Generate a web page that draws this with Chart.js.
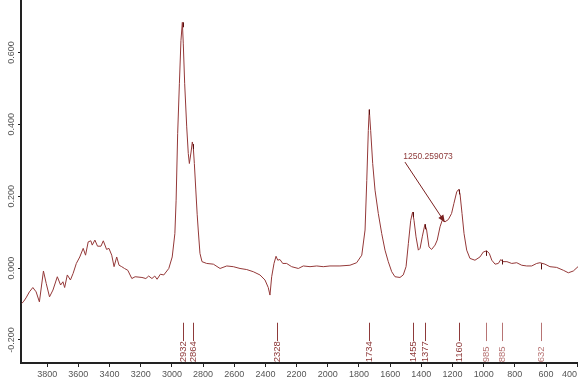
<!DOCTYPE html>
<html><head><meta charset="utf-8">
<script src="https://cdn.jsdelivr.net/npm/chart.js@4/dist/chart.umd.min.js"></script>
<style>html,body{margin:0;padding:0;background:#fff}#wrap{width:578px;height:386px}</style>
</head><body><div id="wrap"><canvas id="c" width="578" height="386"></canvas></div>
<script>
const wavenumbers = [3962,3950,3936,3914,3892,3871,3850,3824,3806,3785,3763,3735,3714,3699,3688,3671,3651,3634,3613,3591,3569,3554,3537,3520,3511,3494,3477,3455,3440,3419,3404,3386,3371,3354,3339,3322,3304,3283,3257,3236,3192,3167,3149,3128,3110,3095,3074,3052,3020,2998,2981,2973,2963,2952,2942,2933,2927,2918,2905,2895,2888,2877,2869,2863,2856,2847,2838,2831,2820,2807,2777,2734,2691,2648,2606,2563,2520,2478,2435,2403,2382,2371,2360,2345,2332,2321,2307,2289,2264,2232,2189,2157,2114,2071,2029,1986,1922,1858,1815,1782,1761,1750,1740,1734,1725,1712,1697,1676,1654,1633,1612,1590,1569,1537,1516,1498,1483,1468,1456,1447,1434,1419,1408,1394,1377,1366,1351,1334,1312,1298,1280,1266,1248,1227,1206,1191,1173,1161,1152,1139,1126,1109,1088,1056,1024,1002,981,964,948,927,906,890,877,851,820,788,756,724,692,660,639,607,575,532,489,457,425,395];
const absorbance = [-0.098,-0.092,-0.083,-0.066,-0.054,-0.066,-0.094,-0.008,-0.043,-0.080,-0.061,-0.024,-0.047,-0.038,-0.054,-0.019,-0.033,-0.015,0.013,0.031,0.055,0.036,0.073,0.076,0.064,0.078,0.061,0.061,0.076,0.052,0.055,0.036,0.004,0.031,0.008,0.004,-0.001,-0.006,-0.029,-0.024,-0.026,-0.029,-0.022,-0.029,-0.022,-0.031,-0.017,-0.019,-0.001,0.031,0.096,0.189,0.374,0.513,0.633,0.684,0.624,0.513,0.393,0.319,0.291,0.323,0.351,0.337,0.291,0.220,0.150,0.106,0.041,0.018,0.013,0.011,-0.001,0.006,0.004,-0.001,-0.004,-0.010,-0.019,-0.033,-0.054,-0.075,-0.024,0.013,0.033,0.022,0.024,0.013,0.013,0.004,-0.001,0.006,0.004,0.006,0.004,0.006,0.006,0.008,0.015,0.036,0.106,0.244,0.383,0.441,0.383,0.291,0.217,0.152,0.096,0.050,0.018,-0.010,-0.024,-0.026,-0.019,0.004,0.069,0.133,0.156,0.133,0.087,0.050,0.055,0.087,0.122,0.106,0.059,0.052,0.064,0.078,0.115,0.133,0.129,0.135,0.152,0.180,0.212,0.219,0.207,0.152,0.096,0.050,0.027,0.022,0.031,0.045,0.048,0.041,0.022,0.011,0.013,0.024,0.018,0.018,0.013,0.015,0.008,0.006,0.006,0.013,0.015,0.011,0.004,0.002,-0.006,-0.013,-0.008,0.004];
const xTickValues = [3800,3600,3400,3200,3000,2800,2600,2400,2200,2000,1800,1600,1400,1200,1000,800,600,400];
const yTickValues = [-0.2,0,0.2,0.4,0.6];
const peakPositions = [2932,2864,2328,1734,1455,1377,1160,985,885,632];
const peakLabels = ['2932','2864','2328','1734','1455','1377','1160','985','885','632'];
const peakMarkValues = [0.684,0.345,null,0.441,0.156,0.122,0.219,0.048,0.024,0.013];
const annotationText = '1250.259073';
const annotationFrom = [1505, 0.295];
const annotationTo = [1250, 0.128];
const annotationTextAt = [1357, 0.311];

const points = wavenumbers.map((w,i)=>({x:w,y:absorbance[i]}));
const FONT = 'Arial, "Liberation Sans", sans-serif';

const overlay = {
  id:'overlay',
  beforeDraw(chart){
    const xs = chart.scales.x;
    const items = xs.getLabelItems(chart.chartArea);
    const ctx = chart.ctx;
    ctx.save(); ctx.font = '9px ' + FONT;
    items.forEach(it=>{
      const hw = ctx.measureText(String(it.label)).width/2;
      if (it.options.translation[0] + hw > chart.width - 1) it.options.translation[0] = chart.width - 1 - hw;
    });
    ctx.restore();
  },
  afterDatasetsDraw(chart){
    const ctx = chart.ctx, xs = chart.scales.x, ys = chart.scales.y;
    ctx.save();
    peakPositions.forEach((p,i)=>{
      const x = Math.round(xs.getPixelForValue(p))+0.5;
      const col = i>=7 ? '#b77474' : '#8e3a3a';
      ctx.strokeStyle = col; ctx.lineWidth = 1;
      ctx.beginPath();
      ctx.moveTo(x, ys.getPixelForValue(-0.152));
      ctx.lineTo(x, ys.getPixelForValue(-0.203));
      ctx.stroke();
      ctx.save();
      ctx.translate(x-0.5, ys.getPixelForValue(-0.262));
      ctx.rotate(-Math.PI/2);
      ctx.fillStyle = col;
      ctx.font = '9.5px ' + FONT;
      ctx.textAlign = 'left'; ctx.textBaseline = 'middle';
      ctx.fillText(peakLabels[i], 0, 0);
      ctx.restore();
      if (peakMarkValues[i] !== null) {
        const y = ys.getPixelForValue(peakMarkValues[i]);
        ctx.strokeStyle = '#5a1010';
        ctx.beginPath();
        ctx.moveTo(x, y); ctx.lineTo(x, y + (i === 9 ? 6 : 5));
        ctx.stroke();
      }
    });
    const x1 = xs.getPixelForValue(annotationFrom[0]), y1 = ys.getPixelForValue(annotationFrom[1]);
    const x2 = xs.getPixelForValue(annotationTo[0]), y2 = ys.getPixelForValue(annotationTo[1]);
    ctx.strokeStyle = '#7a2020'; ctx.fillStyle = '#7a2020'; ctx.lineWidth = 1;
    ctx.beginPath(); ctx.moveTo(x1,y1); ctx.lineTo(x2,y2); ctx.stroke();
    const ang = Math.atan2(y2-y1, x2-x1), L = 7, W = 3;
    ctx.beginPath();
    ctx.moveTo(x2,y2);
    ctx.lineTo(x2 - L*Math.cos(ang) + W*Math.sin(ang), y2 - L*Math.sin(ang) - W*Math.cos(ang));
    ctx.lineTo(x2 - L*Math.cos(ang) - W*Math.sin(ang), y2 - L*Math.sin(ang) + W*Math.cos(ang));
    ctx.closePath(); ctx.fill();
    ctx.fillStyle = '#8e3a3a';
    ctx.font = '8.5px ' + FONT;
    ctx.textAlign = 'center'; ctx.textBaseline = 'middle';
    ctx.fillText(annotationText, xs.getPixelForValue(annotationTextAt[0]), ys.getPixelForValue(annotationTextAt[1]));
    ctx.restore();
  }
};

new Chart(document.getElementById('c'), {
  type:'scatter',
  data:{datasets:[{data:points, showLine:true, borderColor:'#943838', borderWidth:1, pointRadius:0, tension:0}]},
  options:{
    responsive:false, animation:false, events:[],
    layout:{padding:0},
    plugins:{legend:{display:false}, tooltip:{enabled:false}},
    scales:{
      x:{type:'linear', reverse:true, min:395, max:3968,
         grid:{drawOnChartArea:false, drawTicks:true, tickLength:4, color:'#222', tickWidth:1},
         border:{display:true, color:'#222', width:2},
         afterBuildTicks(s){ s.ticks = xTickValues.map(v=>({value:v})); },
         ticks:{autoSkip:false, maxRotation:0, minRotation:0, padding:2,
                color:'#555', font:{size:9, family:FONT}, callback:v=>String(v)},
         afterFit(s){ s.height = 23; s.paddingLeft = 0; s.paddingRight = 0; }
      },
      y:{type:'linear', min:-0.264, max:0.746,
         grid:{drawOnChartArea:false, drawTicks:true, tickLength:3, color:'#222', tickWidth:1},
         border:{display:true, color:'#222', width:2},
         afterBuildTicks(s){ s.ticks = yTickValues.map(v=>({value:v})); },
         ticks:{autoSkip:false, minRotation:90, maxRotation:90, crossAlign:'center', padding:-6,
                color:'#555', font:{size:9, family:FONT}, callback:v=>v.toFixed(3)},
         afterFit(s){ s.width = 21; s.paddingTop = 0; s.paddingBottom = 0; }
      }
    }
  },
  plugins:[overlay]
});
</script></body></html>
